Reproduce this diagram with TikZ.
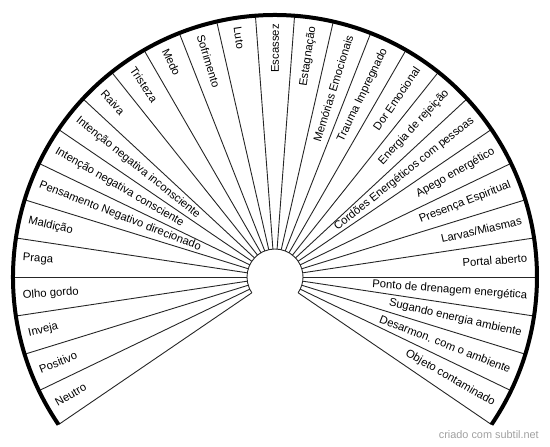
\documentclass[tikz,border=0pt]{standalone}
\usepackage{fontspec}
\setmainfont{Liberation Sans}
\definecolor{wmgray}{HTML}{A0A0A0}
\begin{document}
\begin{tikzpicture}[x=1pt,y=1pt,
  ray/.style={line width=0.9pt, black!85},
  rim/.style={line width=4pt, black},
  lbl/.style={inner sep=0pt, font=\fontsize{11.3}{13}\selectfont},
  wmark/.style={inner sep=0pt, anchor=east, text=wmgray, font=\fontsize{10.9}{12}\selectfont}]
\useasboundingbox (0,0) rectangle (550,-447);
\begin{scope}[shift={(275,-277)}]
  \pgfmathsetmacro{\st}{180/21}
  \pgfmathsetmacro{\astart}{180+4*\st}
  \pgfmathsetmacro{\aend}{\astart-29*\st}
  \foreach \k in {0,...,29} {
    \pgfmathsetmacro{\ang}{\astart-\k*\st}
    \coordinate (i\k) at (\ang:28);
    \coordinate (o\k) at (\ang:262);
    \draw[ray] (i\k) -- (o\k);
  }
  \draw[ray] (i0) arc[start angle=\astart, end angle=\aend, radius=28];
  \draw[rim] (o0) arc[start angle=\astart, end angle=\aend, radius=262];
  \foreach \t [count=\k] in {Neutro, Positivo, Inveja, Olho gordo, Praga, Maldição,
      Pensamento Negativo direcionado, Intenção negativa consciente,
      Intenção negativa inconsciente, Raiva, Tristeza, Medo, Sofrimento, Luto,
      Escassez, Estagnação, Memórias Emocionais, Trauma Impregnado, Dor Emocional,
      Energia de rejeição, Cordões Energéticos com pessoas, Apego energético,
      Presença Espiritual, Larvas/Miasmas, Portal aberto,
      Ponto de drenagem energética, Sugando energia ambiente,
      Desarmon. com o ambiente, Objeto contaminado} {
    \pgfmathsetmacro{\ang}{\astart-(\k-0.5)*\st}
    \ifnum\k<15
      \pgfmathsetmacro{\rot}{\ang-180}
      \node[lbl, rotate=\rot, anchor=west] (l\k) at (\ang:253) {\t};
    \else
      \node[lbl, rotate=\ang, anchor=east] (l\k) at (\ang:253) {\t};
    \fi
  }
\end{scope}
\node[wmark] (wm) at (539,-435) {criado com subtil.net};
\end{tikzpicture}
\end{document}
